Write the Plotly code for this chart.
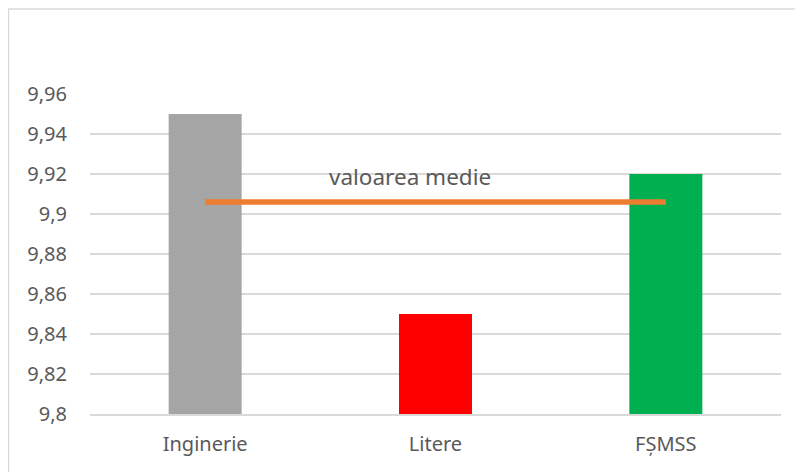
import plotly.graph_objects as go

categories = ["Inginerie", "Litere", "FȘMSS"]
scores = [9.95, 9.85, 9.92]
bar_colors = ["#A5A5A5", "#FF0000", "#00B050"]
mean_values = [9.906, 9.906, 9.906]
tick_vals = [9.8, 9.82, 9.84, 9.86, 9.88, 9.9, 9.92, 9.94, 9.96]
tick_text = ["9,8", "9,82", "9,84", "9,86", "9,88", "9,9", "9,92", "9,94", "9,96"]

font_name = "Noto Sans"
text_color = "#595959"

fig = go.Figure()

fig.add_trace(go.Bar(x=categories, y=scores, marker=dict(color=bar_colors, line=dict(width=0)),
                     width=0.317, showlegend=False, hoverinfo="x+y"))

fig.add_trace(go.Scatter(x=categories, y=mean_values, mode="lines", showlegend=False,
                         line=dict(color="#ED7D31", width=5.5)))

fig.add_annotation(x="Litere", y=mean_values[1], text="valoarea medie", showarrow=False,
                   xshift=-26, yshift=26, font=dict(family=font_name, size=22.5, color=text_color))

# outer chart border (only top and left edges visible in the crop)
fig.add_shape(type="rect", xref="paper", yref="paper", x0=-0.118, x1=1.2, y0=-0.3, y1=1.2656,
              line=dict(color="#D9D9D9", width=1.5), fillcolor="rgba(0,0,0,0)", layer="below")

# page body adds an 8px margin, so the figure is a bit smaller than the window
fig.update_layout(
    width=795, height=464,
    margin=dict(l=82, r=22, t=86, b=58),
    paper_bgcolor="white", plot_bgcolor="white",
    font=dict(family=font_name, size=20, color=text_color),
    bargap=0.683,
)

fig.update_yaxes(range=[9.8, 9.96], tickvals=tick_vals, ticktext=tick_text,
                 showgrid=True, gridcolor="#D9D9D9", gridwidth=1.5, zeroline=False,
                 showline=False, ticks="", ticklabelstandoff=22)
fig.update_xaxes(showgrid=False, showline=True, linecolor="#D9D9D9", linewidth=1.5,
                 ticks="", ticklabelstandoff=11)

fig.write_html("out.html")
